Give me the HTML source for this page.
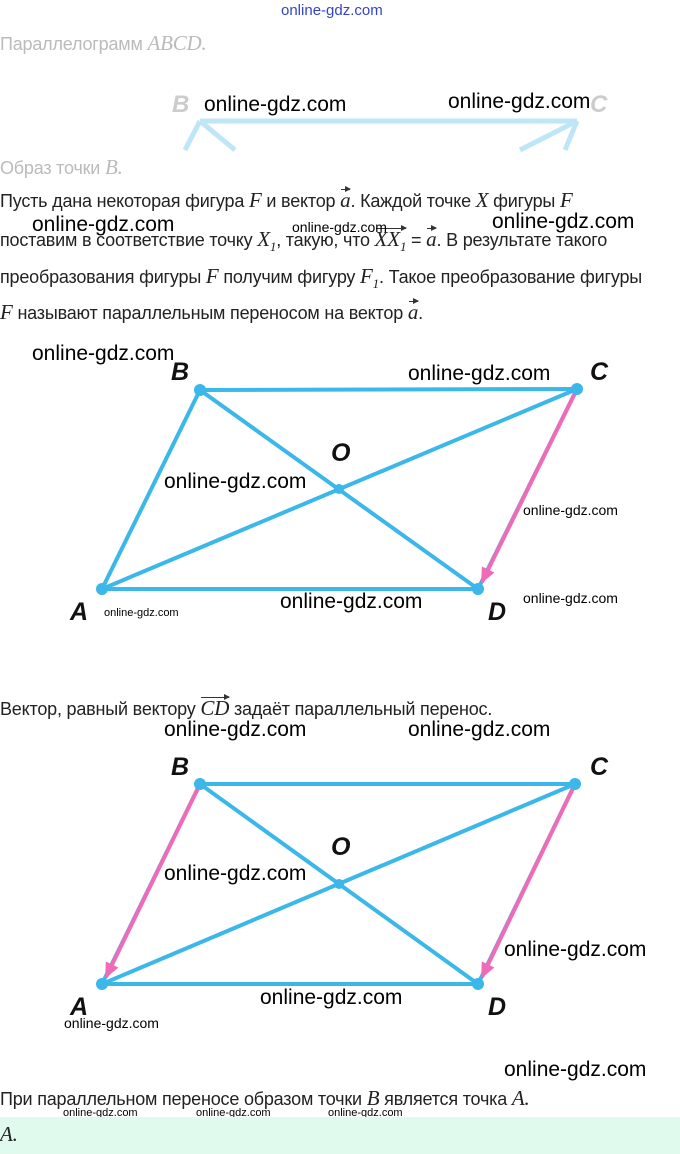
<!DOCTYPE html>
<html><head><meta charset="utf-8"><style>
body{margin:0;width:680px;height:1154px;position:relative;background:#fff;font-family:"Liberation Sans",sans-serif;overflow:hidden}
.t{position:absolute;left:0;font-size:18px;color:#222;white-space:nowrap;letter-spacing:-0.2px}
.m{font-family:"Liberation Serif",serif;font-style:italic;font-size:21px}
.v{position:relative;display:inline-block}
.v:before{content:"";position:absolute;left:1px;right:0;top:1px;border-top:1.3px solid #333}
.v:after{content:"";position:absolute;right:-1px;top:-2px;border-left:6px solid #333;border-top:3.5px solid transparent;border-bottom:3.5px solid transparent}
.w{position:absolute;font-family:"Liberation Sans",sans-serif;color:#000;white-space:nowrap}
.big{font-size:21px}.sm{font-size:12px}
.g{color:#bbb}
</style></head><body>
<div class="w" style="left:281px;top:2px;font-size:15px;color:#3344cc">online-gdz.com</div>
<div class="t g" style="top:31px">Параллелограмм <span class="m">ABCD.</span></div>
<svg style="position:absolute;left:0;top:0" width="680" height="160">
<line x1="200" y1="121" x2="577" y2="121" stroke="#bfe6f7" stroke-width="5"/>
<line x1="200" y1="121" x2="185" y2="150" stroke="#bfe6f7" stroke-width="5"/>
<line x1="200" y1="121" x2="235" y2="150" stroke="#bfe6f7" stroke-width="5"/>
<line x1="577" y1="121" x2="520" y2="150" stroke="#bfe6f7" stroke-width="5"/>
<line x1="577" y1="121" x2="565" y2="150" stroke="#bfe6f7" stroke-width="5"/>
<text x="172" y="112" font-family="Liberation Sans" font-style="italic" font-weight="bold" font-size="24" fill="#ccc">B</text>
<text x="590" y="112" font-family="Liberation Sans" font-style="italic" font-weight="bold" font-size="24" fill="#ccc">C</text>
</svg>
<div class="w big" style="left:204px;top:93px">online-gdz.com</div>
<div class="w big" style="left:448px;top:90px">online-gdz.com</div>
<div class="t g" style="top:155px">Образ точки <span class="m">B.</span></div>
<div class="t" style="top:188px">Пусть дана некоторая фигура <span class="m">F</span> и вектор <span class="m v">a</span>. Каждой точке <span class="m">X</span> фигуры <span class="m">F</span></div>
<div class="t" style="top:227px">поставим в соответствие точку <span class="m">X<sub style="font-size:13px">1</sub></span>, такую, что <span class="m v">XX<sub style="font-size:13px">1</sub></span> = <span class="m v">a</span>. В результате такого</div>
<div class="t" style="top:264px">преобразования фигуры <span class="m">F</span> получим фигуру <span class="m">F<sub style="font-size:13px">1</sub></span>. Такое преобразование фигуры</div>
<div class="t" style="top:300px"><span class="m">F</span> называют параллельным переносом на вектор <span class="m v">a</span>.</div>
<div class="w big" style="left:32px;top:213px">online-gdz.com</div>
<div class="w sm" style="left:292px;top:219px;font-size:14px">online-gdz.com</div>
<div class="w big" style="left:492px;top:210px">online-gdz.com</div>

<svg style="position:absolute;left:0;top:0" width="680" height="1154">
<defs><marker id="ah" markerWidth="16" markerHeight="14" refX="14" refY="7" orient="auto" markerUnits="userSpaceOnUse" viewBox="0 0 16 14"><path d="M0,0 L16,7 L0,14 z" fill="#f06ab8"/></marker></defs>
<g stroke="#3bb7ea" stroke-width="4" fill="none" stroke-linecap="round">
<polygon points="200,390 577,389 478,589 102,589"/>
<line x1="200" y1="390" x2="478" y2="589"/><line x1="102" y1="589" x2="577" y2="389"/>
<polygon points="200,784 575,784 478,984 102,984"/>
<line x1="200" y1="784" x2="478" y2="984"/><line x1="102" y1="984" x2="575" y2="784"/>
</g>
<g stroke="#f06ab8" stroke-width="4">
<line x1="577" y1="389" x2="482" y2="582" marker-end="url(#ah)"/>
<line x1="575" y1="784" x2="482" y2="977" marker-end="url(#ah)"/>
<line x1="200" y1="784" x2="106" y2="977" marker-end="url(#ah)"/>
</g>
<g fill="#3bb7ea">
<circle cx="200" cy="390" r="6"/><circle cx="577" cy="389" r="6"/><circle cx="478" cy="589" r="6"/><circle cx="102" cy="589" r="6"/><circle cx="339" cy="489" r="5"/>
<circle cx="200" cy="784" r="6"/><circle cx="575" cy="784" r="6"/><circle cx="478" cy="984" r="6"/><circle cx="102" cy="984" r="6"/><circle cx="339" cy="884" r="5"/>
</g>
<g font-family="Liberation Sans" font-style="italic" font-weight="bold" font-size="25" fill="#111">
<text x="171" y="380">B</text><text x="590" y="380">C</text><text x="331" y="461">O</text><text x="70" y="620">A</text><text x="488" y="620">D</text>
<text x="171" y="775">B</text><text x="590" y="775">C</text><text x="331" y="855">O</text><text x="70" y="1015">A</text><text x="488" y="1015">D</text>
</g>
</svg>
<div class="w big" style="left:32px;top:342px">online-gdz.com</div>
<div class="w big" style="left:408px;top:362px">online-gdz.com</div>
<div class="w big" style="left:164px;top:470px">online-gdz.com</div>
<div class="w sm" style="left:523px;top:502px;font-size:14px">online-gdz.com</div>
<div class="w big" style="left:280px;top:590px">online-gdz.com</div>
<div class="w sm" style="left:523px;top:590px;font-size:14px">online-gdz.com</div>
<div class="w sm" style="left:104px;top:607px;font-size:11px">online-gdz.com</div>

<div class="t" style="top:696px">Вектор, равный вектору <span class="m v">CD</span> задаёт параллельный перенос.</div>
<div class="w big" style="left:164px;top:718px">online-gdz.com</div>
<div class="w big" style="left:408px;top:718px">online-gdz.com</div>
<div class="w big" style="left:164px;top:862px">online-gdz.com</div>
<div class="w big" style="left:504px;top:938px">online-gdz.com</div>
<div class="w big" style="left:260px;top:986px">online-gdz.com</div>
<div class="w sm" style="left:64px;top:1015px;font-size:14px">online-gdz.com</div>
<div class="w big" style="left:504px;top:1058px">online-gdz.com</div>
<div class="t" style="top:1086px">При параллельном переносе образом точки <span class="m">B</span> является точка <span class="m">A.</span></div>
<div class="w sm" style="left:63px;top:1107px;font-size:11px">online-gdz.com</div>
<div class="w sm" style="left:196px;top:1107px;font-size:11px">online-gdz.com</div>
<div class="w sm" style="left:328px;top:1107px;font-size:11px">online-gdz.com</div>
<div style="position:absolute;left:0;top:1117px;width:680px;height:37px;background:#e0fbee"></div>
<div class="t" style="top:1122px"><span class="m">A.</span></div>
</body></html>
